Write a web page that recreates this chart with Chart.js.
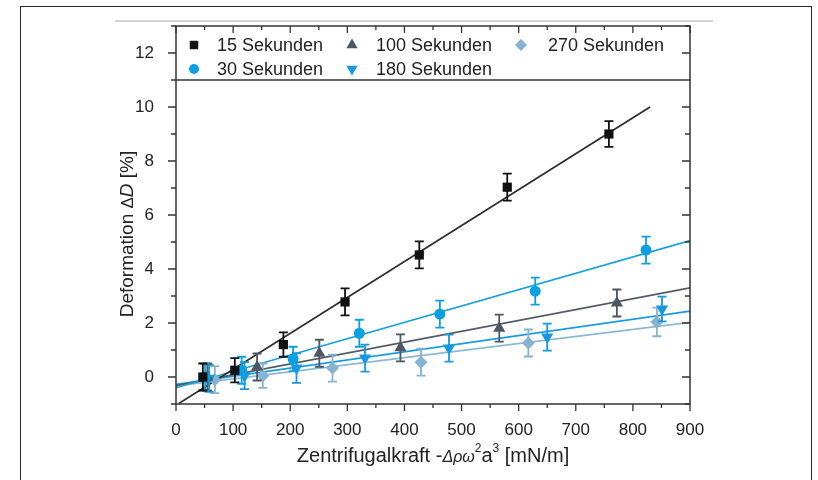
<!DOCTYPE html>
<html>
<head>
<meta charset="utf-8">
<script src="https://cdn.jsdelivr.net/npm/chart.js@4.4.1/dist/chart.umd.min.js"></script>
<style>
html,body{margin:0;padding:0;background:#fff;}
#wrap{position:relative;width:818px;height:480px;overflow:hidden;background:#fff;}
#frame{position:absolute;left:20px;top:6px;width:792px;height:520px;border:1.5px solid #2a2a2a;box-sizing:border-box;}
#rule{position:absolute;left:115px;top:20px;width:598px;height:2px;background:#d4d4d4;}
canvas{position:absolute;left:0;top:0;}
</style>
</head>
<body>
<div id="wrap"><div id="frame"></div><div id="rule"></div><canvas id="c" width="818" height="480"></canvas></div>
<script>
// ---- data ----
const seriesLabels = ['15 Sekunden', '30 Sekunden', '100 Sekunden', '180 Sekunden', '270 Sekunden'];

const x15 = [47, 103, 188, 296, 426, 580, 758];
const y15 = [0.0, 0.25, 1.2, 2.78, 4.52, 7.03, 9.0];
const e15 = [0.5, 0.45, 0.45, 0.5, 0.5, 0.5, 0.48];

const x30 = [51, 115, 205, 321, 462, 629, 823];
const y30 = [0.0, 0.25, 0.67, 1.62, 2.33, 3.18, 4.7];
const e30 = [0.5, 0.5, 0.45, 0.5, 0.5, 0.5, 0.5];

const x100 = [55, 142, 251, 393, 566, 772];
const y100 = [0.0, 0.37, 0.88, 1.08, 1.81, 2.74];
const e100 = [0.5, 0.5, 0.5, 0.5, 0.5, 0.5];

const x180 = [58, 120, 211, 331, 478, 650, 851];
const y180 = [-0.05, 0.05, 0.33, 0.7, 1.07, 1.48, 2.52];
const e180 = [0.5, 0.5, 0.55, 0.5, 0.5, 0.5, 0.46];

const x270 = [68, 152, 274, 429, 617, 842];
const y270 = [-0.1, 0.05, 0.33, 0.55, 1.26, 2.04];
const e270 = [0.5, 0.45, 0.5, 0.5, 0.5, 0.53];

// fitted lines: [x, y] end points
const fit15 = [[5, -0.98], [830, 10.0]];
const fit30 = [[0, -0.4], [900, 5.05]];
const fit100 = [[0, -0.32], [900, 3.3]];
const fit180 = [[0, -0.27], [900, 2.44]];
const fit270 = [[0, -0.33], [900, 2.02]];

const xTickLabels = [0, 100, 200, 300, 400, 500, 600, 700, 800, 900];
const yTickLabels = [0, 2, 4, 6, 8, 10, 12];

// ---- styles ----
const FONT = '"Liberation Sans", Arial, Helvetica, sans-serif';
const TXT = '#222';
const series = [
  {label: seriesLabels[0], xs: x15, ys: y15, es: e15, fit: fit15, color: '#111111', line: '#2b2b2b', style: 'rect', rot: 0, r: 6.5},
  {label: seriesLabels[1], xs: x30, ys: y30, es: e30, fit: fit30, color: '#0aa0e2', line: '#17a0e0', style: 'circle', rot: 0, r: 5.5},
  {label: seriesLabels[2], xs: x100, ys: y100, es: e100, fit: fit100, color: '#4e5761', line: '#535c66', style: 'triangle', rot: 0, r: 7},
  {label: seriesLabels[3], xs: x180, ys: y180, es: e180, fit: fit180, color: '#1898de', line: '#1a9ce0', style: 'triangle', rot: 180, r: 7},
  {label: seriesLabels[4], xs: x270, ys: y270, es: e270, fit: fit270, color: '#86b3d1', line: '#8db8d4', style: 'rectRot', rot: 0, r: 6.5}
];

const datasets = [];
series.forEach((s) => {
  datasets.push({
    type: 'line',
    label: s.label + ' fit',
    data: s.fit.map(p => ({x: p[0], y: p[1]})),
    borderColor: s.line,
    borderWidth: 1.7,
    pointRadius: 0,
    fill: false,
    order: 10
  });
});
series.forEach((s) => {
  datasets.push({
    type: 'scatter',
    label: s.label,
    data: s.xs.map((x, i) => ({x: x, y: s.ys[i]})),
    errors: s.es,
    pointStyle: s.style,
    pointRotation: s.rot,
    pointRadius: s.r,
    pointHoverRadius: s.r,
    backgroundColor: s.color,
    borderColor: s.color,
    borderWidth: 0,
    order: 1
  });
});

function drawMarker(ctx, style, x, y, r, rot, color) {
  ctx.save();
  ctx.fillStyle = color;
  ctx.beginPath();
  if (style === 'rect') {
    const h = r * Math.SQRT1_2;
    ctx.rect(x - h, y - h, 2 * h, 2 * h);
  } else if (style === 'circle') {
    ctx.arc(x, y, r, 0, Math.PI * 2);
  } else if (style === 'triangle') {
    let a = rot * Math.PI / 180;
    for (let k = 0; k < 3; k++) {
      const px = x + Math.sin(a) * r, py = y - Math.cos(a) * r;
      if (k === 0) ctx.moveTo(px, py); else ctx.lineTo(px, py);
      a += 2 * Math.PI / 3;
    }
    ctx.closePath();
  } else if (style === 'rectRot') {
    ctx.moveTo(x - r, y); ctx.lineTo(x, y - r); ctx.lineTo(x + r, y); ctx.lineTo(x, y + r);
    ctx.closePath();
  }
  ctx.fill();
  ctx.restore();
}

const errorBars = {
  id: 'errorBars',
  beforeDatasetDraw(chart, args) {
    const ds = chart.data.datasets[args.index];
    if (!ds.errors) return;
    const xs = chart.scales.x, ys = chart.scales.y, ctx = chart.ctx;
    const ca = chart.chartArea;
    ctx.save();
    ctx.beginPath();
    ctx.rect(ca.left, ca.top, ca.right - ca.left, ca.bottom - ca.top);
    ctx.clip();
    ctx.strokeStyle = ds.borderColor;
    ctx.lineWidth = 1.8;
    ds.data.forEach((p, i) => {
      const e = ds.errors[i];
      const px = xs.getPixelForValue(p.x);
      const pt = ys.getPixelForValue(p.y + e);
      const pb = ys.getPixelForValue(p.y - e);
      ctx.beginPath();
      ctx.moveTo(px, pt); ctx.lineTo(px, pb);
      ctx.moveTo(px - 4.5, pt); ctx.lineTo(px + 4.5, pt);
      ctx.moveTo(px - 4.5, pb); ctx.lineTo(px + 4.5, pb);
      ctx.stroke();
    });
    ctx.restore();
  }
};

function drawSegments(ctx, segs, x, y) {
  let cx = x;
  segs.forEach(s => {
    ctx.font = s.f;
    ctx.fillText(s.t, cx, y + (s.dy || 0));
    cx += ctx.measureText(s.t).width;
  });
}
function segWidth(ctx, segs) {
  let w = 0;
  segs.forEach(s => { ctx.font = s.f; w += ctx.measureText(s.t).width; });
  return w;
}

const decor = {
  id: 'decor',
  afterDraw(chart) {
    const ctx = chart.ctx;
    const {left, right, top, bottom} = chart.chartArea;
    const xs = chart.scales.x, ys = chart.scales.y;
    ctx.save();
    ctx.strokeStyle = '#333';
    ctx.lineWidth = 1.5;
    ctx.strokeRect(left, top, right - left, bottom - top);
    // separator line at y = 11
    const sep = ys.getPixelForValue(11);
    ctx.beginPath(); ctx.moveTo(left, sep); ctx.lineTo(right, sep); ctx.stroke();
    // ticks
    ctx.lineWidth = 1.3;
    ctx.beginPath();
    for (let v = 0; v <= 900; v += 50) {
      const px = xs.getPixelForValue(v);
      const L = (v % 100 === 0) ? 7 : 4;
      ctx.moveTo(px, bottom); ctx.lineTo(px, bottom + L);
      ctx.moveTo(px, top); ctx.lineTo(px, top + L);
    }
    for (let v = -1; v <= 13; v += 1) {
      const py = ys.getPixelForValue(v);
      const major = (v % 2 === 0);
      ctx.moveTo(left, py); ctx.lineTo(left - (major ? 8 : 5), py);
      if (v !== 11) { ctx.moveTo(right, py); ctx.lineTo(right - (major ? 8 : 5), py); }
    }
    ctx.stroke();

    // legend
    const pos = [[194, 45, 217], [194, 69, 217], [352, 45, 376], [352, 69, 376], [521, 45, 548]];
    ctx.textBaseline = 'middle';
    ctx.textAlign = 'left';
    series.forEach((s, i) => {
      const p = pos[i];
      drawMarker(ctx, s.style, p[0], p[1], s.r - 0.5, s.rot, s.color);
      ctx.fillStyle = TXT;
      ctx.font = '18px ' + FONT;
      ctx.fillText(s.label, p[2], p[1] + 1);
    });

    // x title
    ctx.fillStyle = TXT;
    ctx.textBaseline = 'alphabetic';
    const xt = [
      {t: 'Zentrifugalkraft -', f: '20px ' + FONT},
      {t: 'Δρω', f: 'italic 16px ' + FONT},
      {t: '2', f: '12px ' + FONT, dy: -10},
      {t: 'a', f: '20px ' + FONT},
      {t: '3', f: '12px ' + FONT, dy: -10},
      {t: ' [mN/m]', f: '20px ' + FONT}
    ];
    const wx = segWidth(ctx, xt);
    drawSegments(ctx, xt, (left + right) / 2 - wx / 2, 462);

    // y title
    const yt = [
      {t: 'Deformation ', f: '19px ' + FONT},
      {t: 'Δ', f: '17px ' + FONT},
      {t: 'D', f: 'italic 19px ' + FONT},
      {t: ' [%]', f: '19px ' + FONT}
    ];
    const wy = segWidth(ctx, yt);
    ctx.translate(133, 234);
    ctx.rotate(-Math.PI / 2);
    drawSegments(ctx, yt, -wy / 2, 0);
    ctx.restore();
  }
};

new Chart(document.getElementById('c'), {
  type: 'scatter',
  data: {datasets: datasets},
  options: {
    responsive: false,
    animation: false,
    devicePixelRatio: 1,
    layout: {padding: {left: 0, right: 128, top: 26, bottom: 0}},
    plugins: {legend: {display: false}, tooltip: {enabled: false}},
    scales: {
      x: {
        type: 'linear', min: 0, max: 900,
        grid: {display: false}, border: {display: false},
        afterBuildTicks: (s) => { s.ticks = xTickLabels.map(v => ({value: v})); },
        ticks: {font: {size: 17, family: FONT}, color: TXT, padding: 8, maxRotation: 0, autoSkip: false},
        afterFit: (s) => { s.height = 76; }
      },
      y: {
        type: 'linear', min: -1, max: 13,
        grid: {display: false}, border: {display: false},
        afterBuildTicks: (s) => { s.ticks = yTickLabels.map(v => ({value: v})); },
        ticks: {font: {size: 17, family: FONT}, color: TXT, padding: 14, autoSkip: false},
        afterFit: (s) => { s.width = 176; }
      }
    }
  },
  plugins: [errorBars, decor]
});
</script>
</body>
</html>
